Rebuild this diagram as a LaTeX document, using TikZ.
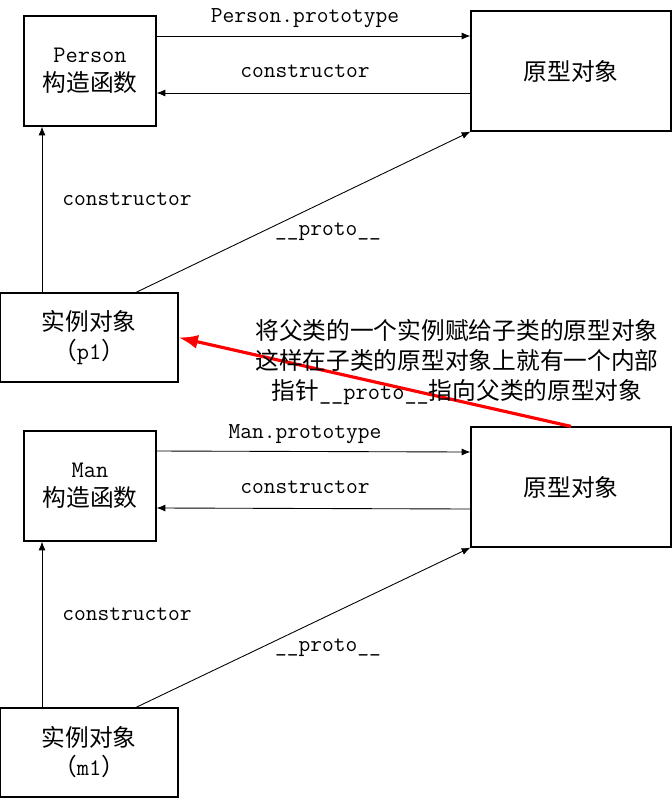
\documentclass[tikz,border=0pt]{standalone}
\usepackage{fontspec}
\setmainfont{Noto Sans CJK SC}
\usepackage{tikz}
\usetikzlibrary{arrows.meta,positioning,calc}
\definecolor{linkred}{RGB}{255,0,0}

\tikzset{
    objbox/.style={draw, line width=0.7pt, align=center, inner sep=0pt,
        font=\fontsize{13.5}{16.5}\selectfont},
    ctorbox/.style={objbox, minimum width=2.64cm, minimum height=2.2cm},
    protobox/.style={objbox, minimum width=4cm, minimum height=2.4cm},
    instbox/.style={objbox, minimum width=3.56cm, minimum height=1.78cm},
    link/.style={-{Latex[length=5pt,width=4pt]}, line width=0.5pt},
    redlink/.style={-{Latex[length=11pt,width=8pt]}, line width=1.8pt, draw=linkred},
    lbl/.style={font=\fontsize{13}{16}\selectfont\ttfamily, inner sep=0pt},
    note/.style={align=center, inner sep=0pt, font=\fontsize{13.5}{17}\selectfont}
}

\begin{document}
\begin{tikzpicture}[x=0.02cm, y=-0.02cm]
        \useasboundingbox (0,0) rectangle (672,798);

        % parent: Person
        \node[ctorbox] (person) at (90,71) {\texttt{Person}\\构造函数};
        \node[protobox] (proto1) at (571,71) {原型对象};
        \node[instbox] (p1) at (89,337.5) {实例对象\\（\texttt{p1}）};

        \draw[link] ([yshift=0.7cm]person.east) -- ([yshift=0.7cm]proto1.west);
        \draw[link] ([yshift=-0.44cm]proto1.west) -- ([yshift=-0.44cm]person.east);
        \draw[link] ([xshift=-0.96cm]person.south |- p1.north) -- ([xshift=-0.96cm]person.south);
        \draw[link] ([xshift=0.94cm]p1.north) -- (proto1.south west);

        \node[lbl] (ptype1) at (305,18) {Person.prototype};
        \node[lbl] (ctor1) at (305,71) {constructor};
        \node[lbl] (ctor2) at (127,199) {constructor};
        \node[lbl] (pp1) at (328,232) {\_\_proto\_\_};

        % child: Man
        \node[ctorbox] (man) at (90,486) {\texttt{Man}\\构造函数};
        \node[protobox] (proto2) at (571,487) {原型对象};
        \node[instbox] (m1) at (89,752.5) {实例对象\\（\texttt{m1}）};

        \draw[link] ([yshift=0.7cm]man.east) -- ([yshift=0.7cm]proto2.west);
        \draw[link] ([yshift=-0.44cm]proto2.west) -- ([yshift=-0.44cm]man.east);
        \draw[link] ([xshift=-0.96cm]man.south |- m1.north) -- ([xshift=-0.96cm]man.south);
        \draw[link] ([xshift=0.94cm]m1.north) -- (proto2.south west);

        \node[lbl] (ptype2) at (305,434) {Man.prototype};
        \node[lbl] (ctor3) at (305,487) {constructor};
        \node[lbl] (ctor4) at (127,614) {constructor};
        \node[lbl] (pp2) at (328,648) {\_\_proto\_\_};

        % inheritance
        \draw[redlink] (proto2.north) -- (p1.east);
        \node[note] (explain) at (457,362) {将父类的一个实例赋给子类的原型对象\\这样在子类的原型对象上就有一个内部\\指针\texttt{\_\_proto\_\_}指向父类的原型对象};
\end{tikzpicture}
\end{document}
